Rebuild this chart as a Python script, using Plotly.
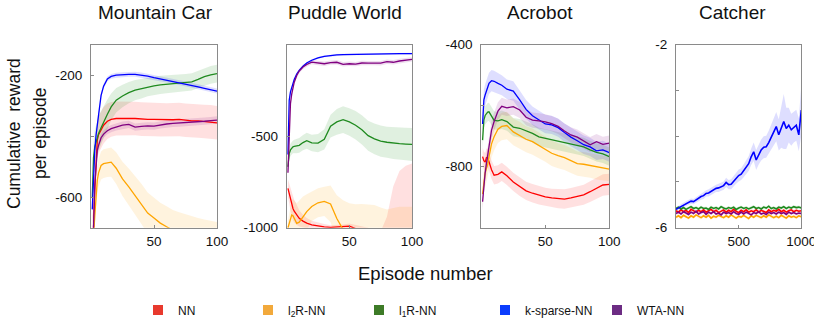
import plotly.graph_objects as go

W, H = 814, 324

# ---------------- data ----------------
ep = [1, 2, 3, 4, 5, 6, 8, 10, 13, 16, 20, 25, 30, 35, 40, 45, 50, 55, 60, 65, 70, 75, 80, 85, 90, 95, 100]

# Mountain Car
mc_nn = [-720, -700, -577, -468, -413, -395, -378, -364, -351, -345, -342, -341, -342, -342, -344, -345, -345, -346, -347, -346, -345, -348, -350, -350, -352, -353, -356]
mc_nn_sd = [60, 60, 60, 60, 60, 60, 60, 60, 58, 57, 56, 55, 55, 55, 55, 55, 55, 55, 55, 55, 55, 55, 55, 55, 55, 55, 55]
mc_l2 = [-760, -730, -660, -590, -544, -520, -496, -490, -487, -485, -505, -540, -566, -594, -622, -652, -668, -685, -697, -708, -715, -722, -728, -733, -738, -742, -746]
mc_l2_sd = [40, 40, 42, 44, 45, 45, 46, 47, 47, 48, 52, 56, 60, 63, 66, 67, 67, 67, 67, 66, 66, 66, 65, 65, 65, 65, 65]
mc_l1 = [-600, -470, -435, -419, -404, -391, -372, -353, -328, -304, -282, -268, -257, -249, -244, -238, -235, -232, -230, -227, -225, -224, -222, -214, -205, -199, -195]
mc_l1_sd = [40, 50, 55, 57, 57, 57, 55, 52, 48, 44, 40, 37, 35, 33, 32, 31, 30, 30, 29, 28, 28, 28, 28, 28, 29, 29, 29]
mc_ks = [-640, -522, -446, -397, -358, -331, -266, -236, -212, -204, -200, -198, -197, -197, -199, -203, -208, -212, -216, -220, -224, -228, -233, -238, -243, -248, -252]
mc_ks_sd = [20, 18, 16, 14, 12, 10, 9, 8, 8, 8, 8, 8, 8, 8, 8, 8, 8, 8, 8, 8, 8, 8, 8, 8, 8, 8, 8]
mc_wta = [-740, -700, -560, -490, -446, -430, -405, -393, -382, -375, -369, -364, -361, -370, -368, -366, -367, -363, -360, -358, -357, -356, -354, -352, -351, -349, -347]
mc_wta_sd = [12, 12, 12, 12, 12, 12, 12, 12, 12, 12, 12, 12, 12, 12, 12, 12, 12, 12, 12, 12, 12, 12, 12, 12, 12, 12, 12]

# Puddle World
pw_nn = [-785, -813, -849, -875, -895, -910, -930, -949, -964, -975, -984, -991, -995, -998, -997, -994, -991, -1005, -1030, -1060, -1100, -1140, -1150, -1150, -1150, -1150, -1150]
pw_nn_sd = [50, 55, 60, 62, 64, 62, 55, 45, 35, 28, 22, 18, 15, 12, 12, 12, 14, 20, 40, 60, 80, 120, 210, 375, 460, 488, 501]
pw_l2 = [-1000, -980, -950, -931, -935, -950, -976, -970, -940, -912, -884, -864, -856, -870, -950, -1010, -1040, -1050, -1050, -1050, -1050, -1055, -1060, -1055, -1050, -1050, -1050]
pw_l2_sd = [40, 55, 70, 80, 90, 100, 110, 120, 110, 95, 80, 79, 80, 100, 128, 160, 173, 178, 179, 176, 174, 165, 160, 163, 165, 165, 165]
pw_l1 = [-667, -595, -575, -565, -558, -556, -555, -550, -535, -525, -537, -538, -517, -445, -422, -410, -422, -440, -465, -497, -515, -527, -533, -538, -541, -543, -545]
pw_l1_sd = [30, 32, 34, 35, 35, 36, 38, 40, 42, 44, 45, 50, 55, 62, 70, 73, 75, 78, 80, 82, 84, 85, 85, 87, 88, 89, 90]
pw_ks = [-600, -304, -258, -235, -213, -190, -160, -140, -118, -100, -85, -72, -64, -59, -56, -54, -53, -52, -51, -51, -51, -50, -50, -50, -49, -49, -49]
pw_ks_sd = [10, 8, 6, 6, 5, 5, 5, 5, 5, 5, 5, 5, 5, 5, 5, 5, 5, 5, 5, 5, 5, 5, 5, 5, 5, 5, 5]
pw_wta = [-700, -431, -322, -270, -231, -205, -168, -144, -122, -108, -95, -100, -104, -98, -96, -107, -104, -106, -100, -101, -100, -101, -93, -96, -89, -86, -80]
pw_wta_sd = [12, 12, 12, 12, 12, 12, 12, 12, 12, 12, 12, 12, 12, 12, 12, 12, 12, 12, 12, 12, 12, 12, 12, 12, 12, 12, 12]

# Acrobot
ac_nn = [-767, -780, -785, -770, -770, -784, -810, -828, -825, -817, -830, -850, -866, -879, -887, -894, -899, -902, -905, -906, -902, -897, -892, -882, -871, -860, -858]
ac_nn_sd = [30, 30, 30, 30, 30, 30, 30, 30, 30, 30, 30, 30, 30, 30, 30, 30, 30, 30, 31, 32, 32, 33, 33, 34, 35, 35, 35]
ac_l2 = [-890, -844, -820, -806, -793, -768, -725, -702, -677, -668, -665, -686, -697, -710, -718, -730, -742, -756, -764, -770, -780, -790, -792, -796, -802, -805, -808]
ac_l2_sd = [45, 45, 45, 45, 45, 45, 45, 45, 45, 45, 45, 44, 44, 43, 43, 42, 42, 42, 41, 41, 41, 40, 40, 40, 40, 40, 40]
ac_l1 = [-713, -647, -632, -625, -621, -620, -635, -648, -650, -646, -652, -670, -674, -682, -691, -702, -707, -710, -715, -720, -725, -730, -735, -745, -753, -758, -767]
ac_l1_sd = [30, 30, 30, 30, 30, 30, 30, 30, 30, 30, 30, 30, 30, 30, 30, 30, 30, 30, 30, 30, 30, 30, 30, 30, 30, 30, 30]
ac_ks = [-660, -581, -565, -552, -538, -527, -518, -520, -527, -533, -546, -552, -581, -612, -633, -648, -660, -663, -672, -688, -703, -715, -728, -735, -748, -745, -754]
ac_ks_sd = [35, 35, 35, 35, 35, 35, 35, 35, 34, 33, 32, 32, 31, 31, 30, 30, 30, 30, 30, 30, 30, 30, 30, 30, 30, 30, 30]
ac_wta = [-915, -855, -820, -790, -760, -730, -680, -652, -618, -602, -607, -603, -614, -638, -647, -650, -653, -659, -668, -683, -696, -703, -716, -728, -718, -727, -723]
ac_wta_sd = [30, 30, 30, 30, 30, 30, 30, 30, 29, 28, 27, 27, 26, 26, 25, 25, 25, 25, 25, 25, 25, 25, 25, 25, 25, 25, 25]

# Catcher (episodes 0, 20, ..., 1000)
ct_ep = list(range(0, 1001, 20))
ct_ks = [-5.60, -5.57, -5.53, -5.50, -5.47, -5.45, -5.42, -5.43, -5.39, -5.37,
         -5.32, -5.30, -5.25, -5.24, -5.20, -5.18, -5.14, -5.13, -5.10, -5.08,
         -5.01, -5.06, -5.05, -4.98, -4.92, -4.86, -4.83, -4.76, -4.69, -4.60,
         -4.45, -4.34, -4.52, -4.40, -4.30, -4.24, -4.23, -4.14, -4.02, -3.90,
         -3.79, -3.97, -3.80, -3.68, -3.83, -3.76, -3.86, -3.80, -3.76, -3.97,
         -3.43]
ct_ks_sd = [0.04, 0.04, 0.05, 0.05, 0.05, 0.05, 0.06, 0.06, 0.06, 0.06,
            0.07, 0.07, 0.07, 0.08, 0.08, 0.08, 0.08, 0.09, 0.09, 0.09,
            0.10, 0.10, 0.11, 0.11, 0.12, 0.13, 0.13, 0.14, 0.15, 0.16,
            0.18, 0.20, 0.22, 0.22, 0.23, 0.24, 0.24, 0.26, 0.28, 0.30,
            0.32, 0.34, 0.45, 0.60, 0.45, 0.38, 0.35, 0.34, 0.34, 0.36,
            0.55]
ct_l1 = [-5.58, -5.55, -5.59, -5.56, -5.60, -5.57, -5.54, -5.58, -5.56, -5.59,
         -5.55, -5.58, -5.57, -5.60, -5.55, -5.58, -5.56, -5.59, -5.54, -5.57,
         -5.59, -5.56, -5.58, -5.55, -5.60, -5.57, -5.55, -5.58, -5.56, -5.59,
         -5.57, -5.54, -5.58, -5.56, -5.59, -5.55, -5.57, -5.53, -5.58, -5.56,
         -5.59, -5.55, -5.57, -5.54, -5.58, -5.55, -5.57, -5.54, -5.56, -5.55,
         -5.57]
ct_nn = [-5.63, -5.66, -5.61, -5.65, -5.62, -5.67, -5.60, -5.64, -5.66, -5.62,
         -5.65, -5.61, -5.66, -5.63, -5.60, -5.65, -5.62, -5.67, -5.63, -5.61,
         -5.66, -5.62, -5.65, -5.60, -5.64, -5.67, -5.62, -5.65, -5.61, -5.66,
         -5.63, -5.65, -5.61, -5.66, -5.62, -5.64, -5.67, -5.61, -5.65, -5.62,
         -5.64, -5.60, -5.65, -5.62, -5.66, -5.63, -5.61, -5.65, -5.62, -5.64,
         -5.63]
ct_wta = [-5.69, -5.66, -5.70, -5.65, -5.68, -5.71, -5.66, -5.69, -5.64, -5.70,
          -5.67, -5.65, -5.71, -5.66, -5.69, -5.65, -5.70, -5.68, -5.72, -5.66,
          -5.69, -5.67, -5.70, -5.65, -5.69, -5.71, -5.66, -5.70, -5.66, -5.69,
          -5.72, -5.67, -5.69, -5.65, -5.70, -5.68, -5.71, -5.66, -5.69, -5.67,
          -5.70, -5.66, -5.69, -5.67, -5.71, -5.66, -5.69, -5.67, -5.70, -5.68,
          -5.69]
ct_l2 = [-5.77, -5.74, -5.78, -5.73, -5.76, -5.79, -5.74, -5.77, -5.72, -5.76,
         -5.78, -5.74, -5.77, -5.73, -5.79, -5.75, -5.77, -5.73, -5.76, -5.78,
         -5.74, -5.77, -5.72, -5.76, -5.79, -5.75, -5.77, -5.73, -5.76, -5.80,
         -5.74, -5.77, -5.73, -5.76, -5.78, -5.74, -5.77, -5.72, -5.76, -5.78,
         -5.75, -5.78, -5.73, -5.76, -5.79, -5.74, -5.77, -5.75, -5.78, -5.74,
         -5.76]
ct_small_sd = 0.035

titles = ["Mountain Car", "Puddle World", "Acrobot", "Catcher"]
legend_names = ["NN", "l<sub>2</sub>R-NN", "l<sub>1</sub>R-NN", "k-sparse-NN", "WTA-NN"]

# y tick labels (labelled) and unlabelled minor tick positions
ytick_lab = [[-200, -600], [-500, -1000], [-400, -800], [-2, -6]]
ytick_minor = [[-400], [], [-600], [-3, -4, -5]]
xtick_lab = [[50, 100], [50, 100], [50, 100], [500, 1000]]

# ---------------- styling ----------------
line_col = {"nn": "#ff0000", "l2": "#ffa500", "l1": "#1f8a1f", "ks": "#0000ff", "wta": "#800080"}
band_col = {"nn": "rgba(255,0,0,0.12)", "l2": "rgba(255,165,0,0.13)", "l1": "rgba(0,128,0,0.12)",
            "ks": "rgba(0,0,255,0.13)", "wta": "rgba(128,0,128,0.13)"}
leg_col = ["#e8392d", "#f2a93b", "#3d7b27", "#0b3cfd", "#6c2c83"]
order = ["nn", "l2", "l1", "ks", "wta"]

panels = [
    (ep, {"nn": (mc_nn, mc_nn_sd), "l2": (mc_l2, mc_l2_sd), "l1": (mc_l1, mc_l1_sd), "ks": (mc_ks, mc_ks_sd), "wta": (mc_wta, mc_wta_sd)}),
    (ep, {"nn": (pw_nn, pw_nn_sd), "l2": (pw_l2, pw_l2_sd), "l1": (pw_l1, pw_l1_sd), "ks": (pw_ks, pw_ks_sd), "wta": (pw_wta, pw_wta_sd)}),
    (ep, {"nn": (ac_nn, ac_nn_sd), "l2": (ac_l2, ac_l2_sd), "l1": (ac_l1, ac_l1_sd), "ks": (ac_ks, ac_ks_sd), "wta": (ac_wta, ac_wta_sd)}),
    (ct_ep, {"nn": (ct_nn, ct_small_sd), "l2": (ct_l2, ct_small_sd), "l1": (ct_l1, ct_small_sd), "ks": (ct_ks, ct_ks_sd), "wta": (ct_wta, ct_small_sd)}),
]
line_w = [1.3, 1.3, 1.3, 1.6]

box_px = [(91, 217), (286.7, 412), (481.3, 609.3), (676, 801.3)]
top_px, bot_px = 44.7, 227.7
yranges = [[-700, -100], [-1000, 0], [-1000, -400], [-6, -2]]
xranges = [[0, 100], [0, 100], [0, 100], [0, 1000]]
title_px = [155, 345, 540, 732]

FONT = "Liberation Sans, Arial, Helvetica, sans-serif"

fig = go.Figure()

for i, (xs, series) in enumerate(panels):
    xa = "x" if i == 0 else f"x{i+1}"
    ya = "y" if i == 0 else f"y{i+1}"
    for k in order:
        m, sd = series[k]
        sds = sd if isinstance(sd, list) else [sd] * len(m)
        up = [a + b for a, b in zip(m, sds)]
        lo = [a - b for a, b in zip(m, sds)]
        fig.add_trace(go.Scatter(x=list(xs) + list(xs)[::-1], y=up + lo[::-1], fill="toself",
                                 fillcolor=band_col[k], line=dict(width=0), mode="lines",
                                 hoverinfo="skip", showlegend=False, xaxis=xa, yaxis=ya))
    for k in order:
        m, sd = series[k]
        fig.add_trace(go.Scatter(x=xs, y=m, mode="lines", line=dict(color=line_col[k], width=line_w[i]),
                                 showlegend=False, xaxis=xa, yaxis=ya))

# legend entries (one legend per entry for exact placement)
leg_x_px = [138, 248, 359, 485, 597]
for j, (name, col) in enumerate(zip(legend_names, leg_col)):
    lg = "legend" if j == 0 else f"legend{j+1}"
    fig.add_trace(go.Scatter(x=[None], y=[None], mode="markers", name=name,
                             marker=dict(symbol="square", size=10, color=col),
                             legend=lg, showlegend=True))

layout = dict(width=W, height=H, margin=dict(l=0, r=0, t=0, b=0, autoexpand=False),
              paper_bgcolor="white", plot_bgcolor="white",
              font=dict(family=FONT, color="#111111"), showlegend=True)

for i in range(4):
    xs = "xaxis" if i == 0 else f"xaxis{i+1}"
    ys = "yaxis" if i == 0 else f"yaxis{i+1}"
    xa = "x" if i == 0 else f"x{i+1}"
    ya = "y" if i == 0 else f"y{i+1}"
    x0, x1 = box_px[i]
    layout[xs] = dict(domain=[x0 / W, x1 / W], range=xranges[i], anchor=ya,
                      showline=True, mirror=True, linecolor="#8a8a8a", linewidth=1,
                      showgrid=False, zeroline=False, ticks="inside", ticklen=3, tickcolor="#8a8a8a",
                      tickvals=xtick_lab[i], ticktext=[str(v) for v in xtick_lab[i]], ticklabelstandoff=1,
                      ticklabeloverflow="allow",
                      tickfont=dict(size=13.5, color="#111111", family=FONT), fixedrange=True)
    ymin = dict(tickvals=ytick_minor[i], ticks="inside", ticklen=3, tickcolor="#8a8a8a", showgrid=False) \
        if ytick_minor[i] else dict(ticks="", showgrid=False, tickvals=[])
    layout[ys] = dict(domain=[1 - bot_px / H, 1 - top_px / H], range=yranges[i], anchor=xa,
                      showline=True, mirror=True, linecolor="#8a8a8a", linewidth=1,
                      showgrid=False, zeroline=False, ticks="inside", ticklen=3, tickcolor="#8a8a8a",
                      tickvals=ytick_lab[i], ticktext=[str(v) for v in ytick_lab[i]], ticklabelstandoff=5,
                      ticklabeloverflow="allow", minor=ymin,
                      tickfont=dict(size=13.5, color="#111111", family=FONT), fixedrange=True)

for j in range(5):
    lg = "legend" if j == 0 else f"legend{j+1}"
    layout[lg] = dict(x=leg_x_px[j] / W, y=1 - 310 / H, xanchor="left", yanchor="middle",
                      orientation="h", bgcolor="rgba(0,0,0,0)", borderwidth=0,
                      font=dict(size=12, family=FONT, color="#111111"), itemsizing="trace",
                      itemwidth=30)

anns = []
for t, px in zip(titles, title_px):
    anns.append(dict(text=t, x=px / W, y=1 - 13 / H, xref="paper", yref="paper", showarrow=False,
                     xanchor="center", yanchor="middle", font=dict(size=19, family=FONT, color="#111111")))
anns.append(dict(text="Episode number", x=425 / W, y=1 - 273 / H, xref="paper", yref="paper", showarrow=False,
                 xanchor="center", yanchor="middle", font=dict(size=18.5, family=FONT, color="#111111")))
anns.append(dict(text="Cumulative  reward", x=14 / W, y=1 - 134 / H, xref="paper", yref="paper", showarrow=False,
                 textangle=-90, xanchor="center", yanchor="middle", font=dict(size=17.5, family=FONT, color="#111111")))
anns.append(dict(text="per episode", x=40 / W, y=1 - 134 / H, xref="paper", yref="paper", showarrow=False,
                 textangle=-90, xanchor="center", yanchor="middle", font=dict(size=17.5, family=FONT, color="#111111")))
layout["annotations"] = anns

fig.update_layout(**layout)
fig.write_html("out.html", config={"displayModeBar": False},
               post_script="document.body.style.margin='0';document.body.style.overflow='hidden';")
